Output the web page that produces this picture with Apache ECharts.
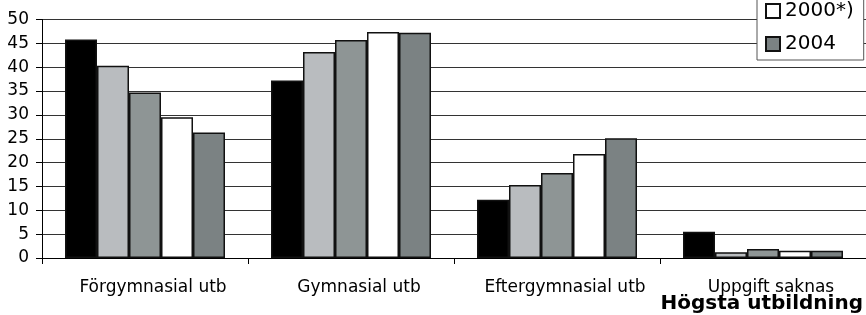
<!DOCTYPE html>
<html>
<head>
<meta charset="utf-8">
<script src="https://cdn.jsdelivr.net/npm/echarts@6/dist/echarts.min.js"></script>
<style>
html,body{margin:0;padding:0;background:#fff;}
#main{width:866px;height:315px;}
</style>
</head>
<body>
<div id="main"></div>
<script>
// data
var categories = ['Förgymnasial utb', 'Gymnasial utb', 'Eftergymnasial utb', 'Uppgift saknas'];
var serie1 = [45.8, 37.2, 12.2, 5.5];   // black
var serie2 = [40.3, 43.2, 15.3, 1.2];   // light grey
var serie3 = [34.7, 45.7, 17.8, 1.9];   // grey
var serie2000 = [29.5, 47.4, 21.8, 1.5]; // white
var serie2004 = [26.3, 47.2, 25.1, 1.5]; // dark grey
var yTicks = [0, 5, 10, 15, 20, 25, 30, 35, 40, 45, 50];

var font = 'DejaVu Sans';

function bar(name, data, color){
    return {
        name: name,
        type: 'bar',
        data: data,
        barWidth: 32,
        barGap: '0%',
        itemStyle: {color: color, borderColor: '#111', borderWidth: 1.5},
        emphasis: {disabled: true}
    };
}

var chart = echarts.init(document.getElementById('main'));
chart.setOption({
    animation: false,
    backgroundColor: '#fff',
    title: {
        text: 'Högsta utbildning',
        right: 3,
        top: 294,
        padding: 0,
        textStyle: {fontFamily: font, fontSize: 20, fontWeight: 'bold', color: '#000'}
    },
    legend: {
        // only the two lowest entries are inside the picture
        data: ['2000*)', '2004'],
        orient: 'vertical',
        left: 757,
        top: -8,
        padding: [9, 10, 6, 8],
        itemGap: 13,
        itemWidth: 14,
        itemHeight: 14,
        icon: 'rect',
        backgroundColor: '#fff',
        borderColor: '#555',
        borderWidth: 1,
        textStyle: {fontFamily: font, fontSize: 20, color: '#000'}
    },
    grid: {left: 42, top: 19.5, bottom: 57, width: 827, containLabel: false},
    xAxis: {
        type: 'category',
        data: categories,
        axisLine: {lineStyle: {color: '#000', width: 1}},
        axisTick: {show: true, length: 6, lineStyle: {color: '#000'}},
        axisLabel: {
            fontFamily: font, fontSize: 17, color: '#000', margin: 21,
            padding: [0, 0, 0, 16], interval: 0
        }
    },
    yAxis: {
        type: 'value',
        min: yTicks[0],
        max: yTicks[yTicks.length - 1],
        interval: 5,
        axisLine: {show: true, lineStyle: {color: '#000', width: 1}},
        axisTick: {show: true, length: 6, lineStyle: {color: '#000'}},
        axisLabel: {fontFamily: font, fontSize: 17, color: '#000', margin: 13},
        splitLine: {lineStyle: {color: '#333', width: 1}}
    },
    series: [
        bar('serie 1', serie1, '#000000'),
        bar('serie 2', serie2, '#b9bcbf'),
        bar('serie 3', serie3, '#8e9595'),
        bar('2000*)', serie2000, '#ffffff'),
        bar('2004', serie2004, '#7b8283')
    ]
});
</script>
</body>
</html>
